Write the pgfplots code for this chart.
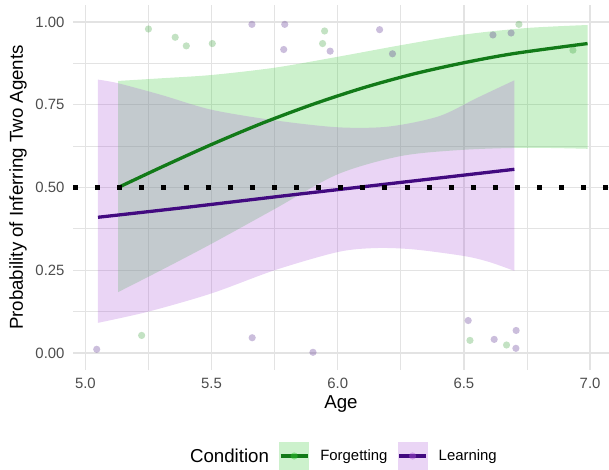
\documentclass[border=0pt]{standalone}
\usepackage{fontspec}
\setmainfont{Liberation Sans}
\usepackage{pgfplots}
\pgfplotsset{compat=1.18}
\usepgfplotslibrary{fillbetween}
\definecolor{fgline}{RGB}{18,122,24}
\definecolor{lnline}{RGB}{66,10,128}
\definecolor{fgfill}{RGB}{50,200,50}
\definecolor{lnfill}{RGB}{171,87,215}
\definecolor{fgpt}{RGB}{40,150,40}
\definecolor{lnpt}{RGB}{70,20,130}
\definecolor{gridc}{RGB}{227,227,227}
\definecolor{tickc}{RGB}{77,77,77}
\begin{document}
\begin{tikzpicture}
\begin{axis}[
  at={(73pt,99.5pt)}, anchor=south west,
  scale only axis, width=536pt, height=364pt,
  xmin=4.951, xmax=7.075, ymin=-0.05, ymax=1.05,
  xtick={5,5.5,6,6.5,7}, xticklabels={5.0,5.5,6.0,6.5,7.0},
  ytick={0,0.25,0.5,0.75,1}, yticklabels={0.00,0.25,0.50,0.75,1.00},
  minor xtick={5.25,5.75,6.25,6.75}, minor ytick={0.125,0.375,0.625,0.875},
  grid=both,
  major grid style={gridc, line width=1.2pt},
  minor grid style={gridc, line width=0.8pt},
  axis line style={draw=none},
  major tick length=0pt, minor tick length=0pt,
  tick style={draw=none},
  xticklabel style={font=\fontsize{14.9}{17}\selectfont, text=tickc, yshift=-5pt},
  yticklabel style={font=\fontsize{14.9}{17}\selectfont, text=tickc, xshift=-5pt},
  xlabel={Age},
  ylabel={Probability of Inferring Two Agents},
  xlabel style={font=\fontsize{18.7}{22}\selectfont, at={(0.5,-0.0948)}, anchor=center},
  ylabel style={font=\fontsize{18.7}{22}\selectfont, at={(-0.1026,0.5)}, anchor=center},
  legend style={at={(0.1978,-0.2376)}, anchor=west, draw=none, fill=none,
    inner sep=0pt, outer sep=0pt, legend columns=-1, legend cell align=left,
    font=\fontsize{14.9}{17}\selectfont,
    nodes={inner sep=0pt},
    /tikz/every odd column/.append style={column sep=11pt},
    /tikz/every even column/.append style={column sep=10pt}},
]
% points (jittered raw responses)
\addplot[forget plot, only marks, mark=*, mark size=3.6pt, color=fgpt,
  mark options={draw opacity=0, fill=fgpt, fill opacity=0.28}] coordinates {
  (5.250,0.979) (5.356,0.954) (5.400,0.928) (5.503,0.935) (5.948,0.973)
  (5.940,0.935) (6.718,0.993) (6.932,0.915) (5.223,0.053) (6.524,0.038)
  (6.669,0.024)};
\addplot[forget plot, only marks, mark=*, mark size=3.6pt, color=lnpt,
  mark options={draw opacity=0, fill=lnpt, fill opacity=0.28}] coordinates {
  (5.660,0.993) (5.790,0.993) (5.786,0.917) (5.970,0.912) (6.166,0.977)
  (6.217,0.904) (6.615,0.961) (6.687,0.967) (5.045,0.011) (5.661,0.046)
  (5.902,0.002) (6.517,0.098) (6.620,0.041) (6.707,0.068) (6.706,0.014)};
% Forgetting ribbon
\addplot[forget plot, draw=none, smooth, name path=fgU] coordinates {
  (5.13,0.822) (5.3,0.830) (5.5,0.840) (5.75,0.862) (6.0,0.895) (6.25,0.930)
  (6.5,0.962) (6.75,0.982) (6.99,0.991)};
\addplot[forget plot, draw=none, smooth, name path=fgL] coordinates {
  (5.13,0.184) (5.3,0.250) (5.5,0.330) (5.75,0.435) (6.0,0.540) (6.25,0.595)
  (6.5,0.614) (6.75,0.620) (6.99,0.617)};
\addplot[forget plot, fgfill, fill opacity=0.25, draw=none] fill between[of=fgU and fgL];
% Forgetting fit
\addplot[forget plot, fgline, line width=3.3pt, smooth] coordinates {
  (5.13,0.500) (5.3,0.561) (5.5,0.630) (5.7,0.694) (5.9,0.751) (6.1,0.801)
  (6.3,0.843) (6.5,0.877) (6.7,0.905) (6.99,0.935)};
% Learning ribbon
\addplot[forget plot, draw=none, smooth, name path=lnU] coordinates {
  (5.05,0.826) (5.13,0.815) (5.3,0.780) (5.5,0.735) (5.75,0.703) (6.0,0.682)
  (6.2,0.684) (6.4,0.715) (6.55,0.770) (6.7,0.824)};
\addplot[forget plot, draw=none, smooth, name path=lnL] coordinates {
  (5.05,0.091) (5.25,0.125) (5.5,0.180) (5.75,0.250) (6.0,0.305) (6.15,0.317)
  (6.3,0.313) (6.5,0.293) (6.6,0.275) (6.7,0.248)};
\addplot[forget plot, lnfill, fill opacity=0.25, draw=none] fill between[of=lnU and lnL];
% Learning fit
\addplot[forget plot, lnline, line width=3.3pt, smooth] coordinates {
  (5.05,0.410) (5.4,0.440) (5.8,0.476) (6.2,0.511) (6.7,0.555)};
% chance line
\addplot[forget plot, black, line width=5pt, dash pattern=on 5pt off 17.1pt] coordinates {
  (4.951,0.5) (7.075,0.5)};
% legend
\addlegendimage{empty legend}
\addlegendentry{\fontsize{18.7}{22}\selectfont Condition}
\addlegendimage{legend image code/.code={
  \path[draw=none, fill=fgfill, fill opacity=0.25] (0pt,-14pt) rectangle (30pt,14pt);
  \path[draw=fgline, line width=3.3pt] (1.5pt,0pt) -- (28.5pt,0pt);
  \path[draw=none, fill=fgfill, fill opacity=0.45] (15pt,0pt) circle (3.6pt);}}
\addlegendentry{Forgetting}
\addlegendimage{legend image code/.code={
  \path[draw=none, fill=lnfill, fill opacity=0.25] (0pt,-14pt) rectangle (30pt,14pt);
  \path[draw=lnline, line width=3.3pt] (1.5pt,0pt) -- (28.5pt,0pt);
  \path[draw=none, fill=lnfill, fill opacity=0.45] (15pt,0pt) circle (3.6pt);}}
\addlegendentry{Learning}
\end{axis}
\pgfresetboundingbox
\useasboundingbox (0,0) rectangle (609pt,469pt);
\end{tikzpicture}
\end{document}
